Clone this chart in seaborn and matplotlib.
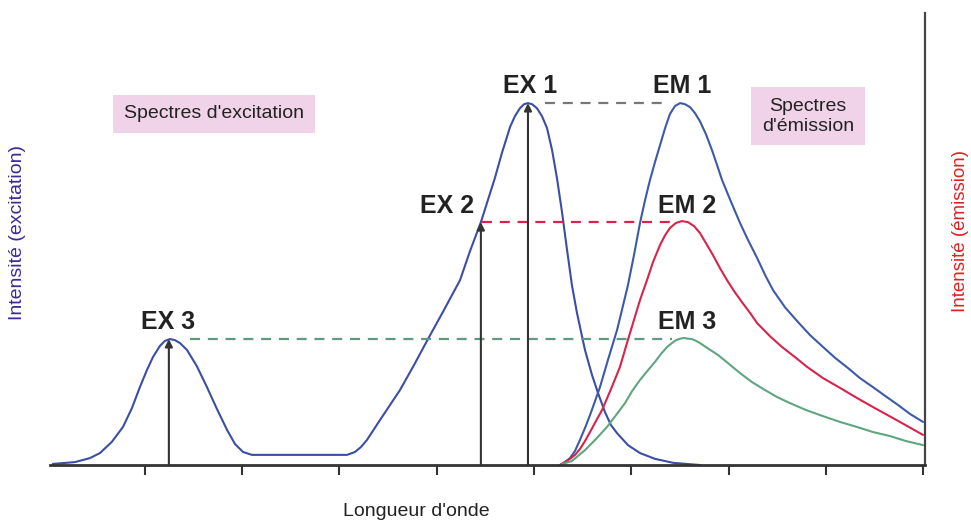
# Schematic excitation / emission spectra (three excitation wavelengths EX 1-3
# and the matching emission spectra EM 1-3), redrawn with seaborn + matplotlib

import numpy as np
import pandas as pd
import matplotlib
matplotlib.use("Agg")
import matplotlib.pyplot as plt
import seaborn as sns


# values: wavelength (arbitrary nm scale) and intensity (EX 1 peak = 100)

ex_wl = [152.7, 164.0, 171.7, 176.9, 183.0, 188.7, 193.3, 197.4, 201.0, 204.1, 207.7, 210.3,
         212.9, 215.4, 218.0, 221.6, 226.7, 231.9, 237.0, 242.2, 246.3, 250.4, 255.0, 259.1,
         303.9, 308.0, 311.1, 314.1, 320.8, 331.1, 338.3, 345.5, 353.7, 362.0, 367.1, 372.7,
         376.3, 379.9, 383.5, 387.7, 390.2, 392.8, 394.9, 396.9, 399.0, 401.5, 404.1, 406.7,
         409.3, 411.8, 414.4, 417.0, 419.5, 422.1, 426.2, 429.8, 432.9, 436.5, 439.6, 442.7,
         448.3, 454.5, 462.2, 471.5, 485.3]
ex_int = [0.3, 0.8, 1.9, 3.3, 6.4, 10.5, 15.7, 21.5, 26.2, 29.8, 32.9, 34.3,
          34.8, 34.5, 33.7, 31.8, 27.3, 21.5, 15.5, 9.7, 5.8, 3.6, 2.8, 2.8,
          2.8, 3.6, 5.0, 6.9, 12.4, 20.7, 27.6, 34.8, 42.8, 51.1, 59.1, 67.1,
          73.2, 79.3, 86.2, 93.4, 96.4, 98.6, 99.7, 100.0, 99.7, 98.6, 96.4, 93.1,
          87.0, 79.3, 69.9, 59.4, 49.7, 42.0, 31.8, 24.9, 19.9, 14.6, 11.0, 8.8,
          5.5, 3.3, 1.7, 0.6, 0.0]

em1_wl = [413.4, 415.9, 418.5, 421.1, 423.6, 426.2, 428.8, 431.4, 433.9, 438.0, 442.7, 445.2,
          448.3, 451.4, 454.5, 457.1, 459.6, 462.2, 464.8, 467.4, 469.9, 472.5, 475.1, 477.6,
          480.2, 482.8, 485.3, 488.4, 491.5, 494.1, 496.7, 501.3, 505.9, 510.0, 514.7, 518.8,
          522.9, 529.0, 535.7, 541.9, 548.6, 554.8, 561.4, 567.6, 574.3, 580.5, 587.1, 593.3,
          600.0]
em1_int = [0.0, 0.8, 1.9, 3.9, 6.9, 10.2, 13.8, 17.7, 21.5, 29.0, 37.3, 42.8,
           49.7, 58.0, 66.9, 73.2, 78.7, 83.7, 88.4, 93.1, 97.0, 99.2, 100.0, 99.7,
           98.9, 97.2, 95.0, 91.4, 87.0, 82.9, 78.7, 72.7, 66.9, 62.2, 57.2, 52.5,
           48.3, 43.6, 39.5, 35.9, 32.6, 29.6, 26.8, 24.0, 21.5, 19.1, 16.6, 14.1,
           11.9]

em2_wl = [413.4, 415.9, 418.5, 421.1, 423.6, 426.2, 428.8, 431.9, 435.0, 439.6, 444.2, 447.8,
          451.4, 454.5, 458.1, 461.2, 464.8, 467.4, 469.9, 473.0, 476.1, 479.2, 482.3, 485.3,
          488.4, 492.0, 495.6, 499.2, 502.8, 506.9, 511.1, 514.7, 521.3, 527.5, 534.2, 540.4,
          548.6, 557.3, 566.1, 574.3, 587.1, 600.0]
em2_int = [0.0, 0.8, 1.7, 2.8, 4.4, 6.6, 9.1, 12.2, 15.2, 21.0, 27.1, 33.7,
           40.1, 45.6, 51.1, 56.1, 60.8, 63.5, 65.5, 66.9, 67.4, 67.1, 66.0, 64.1,
           61.3, 58.0, 54.4, 51.1, 48.1, 45.0, 42.0, 39.2, 35.6, 32.6, 29.8, 27.1,
           24.0, 21.3, 18.5, 16.0, 12.2, 8.3]

em3_wl = [413.4, 416.5, 419.5, 422.6, 426.2, 431.9, 437.5, 442.2, 446.8, 450.4, 454.5, 458.6,
          462.2, 465.3, 468.4, 470.9, 473.0, 475.1, 477.1, 479.2, 481.2, 483.3, 485.3, 490.0,
          494.6, 500.3, 505.9, 512.1, 518.8, 524.9, 531.6, 539.8, 548.6, 557.3, 566.1, 574.3,
          583.0, 591.3, 600.0]
em3_int = [0.0, 0.6, 1.1, 2.5, 4.1, 7.2, 10.5, 13.8, 17.1, 20.4, 23.5, 26.2,
           28.5, 30.7, 32.6, 33.7, 34.5, 34.9, 35.1, 34.9, 34.8, 34.3, 33.7, 32.0,
           30.4, 27.9, 25.4, 22.9, 20.7, 18.8, 17.1, 15.2, 13.5, 11.9, 10.5, 9.1,
           8.0, 6.6, 5.5]

# excitation wavelengths (arrows) with their intensities, and emission maximum
ex_names = ["EX 1", "EX 2", "EX 3"]
em_names = ["EM 1", "EM 2", "EM 3"]
ex_pos = [396.9, 372.7, 212.3]
ex_peak = [100.0, 67.1, 34.8]
em_max_wl = 476.1

ex_color = "#3b4ea6"
em_colors = ["#3d5aa8", "#d8234c", "#5fa67f"]
dash_colors = ["#777777", "#d8234c", "#5f9a7c"]
txt = "#222222"


sns.set_style("white")
plt.rcParams["font.family"] = ["Liberation Sans", "DejaVu Sans"]

fig = plt.figure(figsize=(9.71, 5.20), dpi=100)
ax = fig.add_axes([50 / 971, 55 / 520, 875 / 971, 452 / 520])

# the curves
sns.lineplot(x=ex_wl, y=ex_int, ax=ax, color=ex_color, lw=1.5, sort=False)
for wl, inten, c in zip([em1_wl, em2_wl, em3_wl], [em1_int, em2_int, em3_int], em_colors):
    sns.lineplot(x=wl, y=inten, ax=ax, color=c, lw=1.5, sort=False)

# dashed links from excitation peak to emission peak
dash_start = [405.6, 373.5, 223.1]
dash_end = [468.9, 472.5, 471.0]
for i in range(3):
    ax.plot([dash_start[i], dash_end[i]], [ex_peak[i], ex_peak[i]], color=dash_colors[i],
            lw=1.6, dashes=(4.5, 3.5))

# vertical arrows at the excitation wavelengths
for i in range(3):
    ax.annotate("", xy=(ex_pos[i], ex_peak[i]), xytext=(ex_pos[i], 0),
                arrowprops=dict(arrowstyle="-|>", color="#333333", lw=1.5,
                                mutation_scale=11, shrinkA=0, shrinkB=0))

# peak labels
ex_label_dx = [1.0, -17.4, -0.5]
for i in range(3):
    ax.text(ex_pos[i] + ex_label_dx[i], ex_peak[i] + 4.6, ex_names[i], ha="center", va="center",
            fontsize=18, color=txt, fontweight="bold")
    ax.text(em_max_wl + (0 if i == 0 else 2.5), ex_peak[i] + 4.6, em_names[i], ha="center",
            va="center", fontsize=18, color=txt, fontweight="bold")

box = dict(boxstyle="square,pad=0.55", fc="#f0d3e8", ec="none")
ax.text(235.5, 97.0, "Spectres d'excitation", ha="center", va="center", fontsize=14,
        color=txt, bbox=box)
ax.text(540.9, 96.4, "Spectres\nd'émission", ha="center", va="center", fontsize=14,
        color=txt, bbox=box, linespacing=1.25)

# axes styling
ax.set_xlim(151.2, 601.0)
ax.set_ylim(0, 124.9)
ax.set_xticks(np.arange(200, 601, 50))
ax.set_yticks([])
ax.set_xticklabels([])
ax.tick_params(axis="x", direction="out", length=7, width=1.5, color="#333333", bottom=True)
for s in ["top", "left"]:
    ax.spines[s].set_visible(False)
ax.spines["bottom"].set_linewidth(2.0)
ax.spines["bottom"].set_color("#333333")
ax.spines["right"].set_linewidth(1.6)
ax.spines["right"].set_color("#444444")
ax.set_xlabel("")
ax.set_ylabel("")

fig.text(416 / 971, 1 - 511 / 520, "Longueur d'onde", ha="center", va="center",
         fontsize=14, color=txt)
fig.text(17 / 971, 1 - 232 / 520, "Intensité (excitation)", ha="center", va="center",
         rotation=90, fontsize=14, color="#3a2c96")
fig.text(960 / 971, 1 - 231 / 520, "Intensité (émission)", ha="center", va="center",
         rotation=90, fontsize=13.5, color="#e02020")

plt.savefig("out.png", dpi=100)
